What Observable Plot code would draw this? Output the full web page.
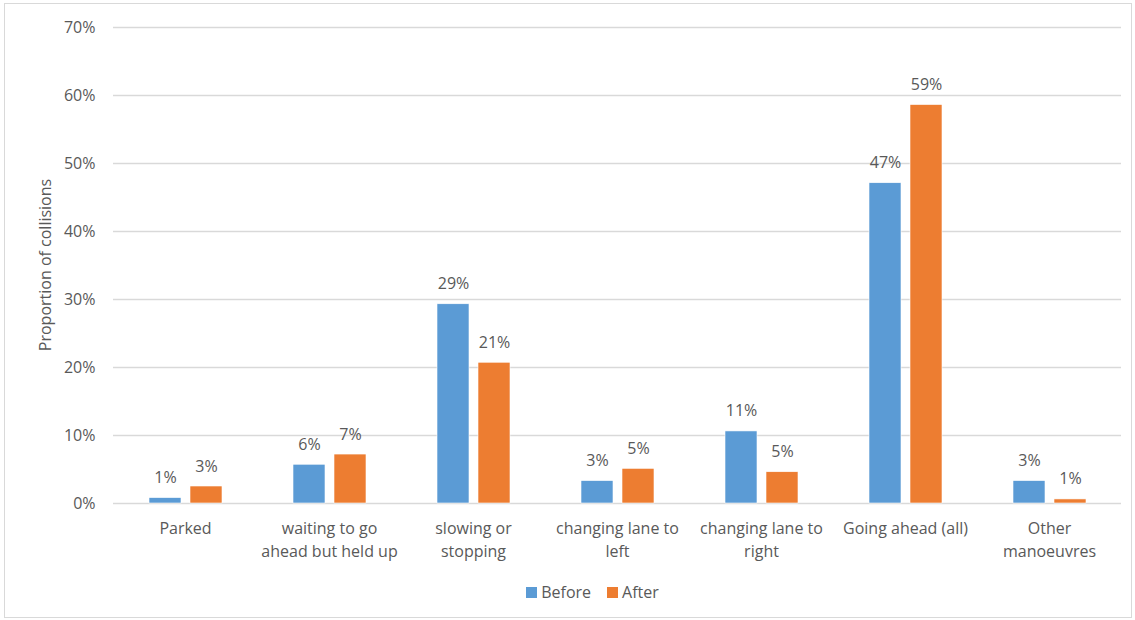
<!DOCTYPE html>
<html>
<head>
<meta charset="utf-8">
<script src="https://cdn.jsdelivr.net/npm/d3@7"></script>
<script src="https://cdn.jsdelivr.net/npm/@observablehq/plot@0.6"></script>
<style>
  body { margin: 0; background: #fff; font-family: "Open Sans", sans-serif; }
  #wrap { position: relative; width: 1135px; height: 620px; overflow: hidden; }
  #frame { position: absolute; left: 4px; top: 3px; width: 1126px; height: 613px; border: 1px solid #d9d9d9; pointer-events: none; }
  #chart { position: absolute; left: 0; top: 0; }
  #legend { position: absolute; top: 581px; left: 0; width: 1135px; display: flex; justify-content: center; gap: 16px; font-size: 16px; color: #595959; padding-left: 50px; box-sizing: border-box; }
  #legend span.item { display: inline-flex; align-items: center; gap: 4px; }
  #legend span.sw { display: inline-block; width: 11px; height: 11px; }
</style>
</head>
<body>
<div id="wrap">
  <div id="chart"></div>
  <div id="legend"></div>
  <div id="frame"></div>
</div>
<script>
const categories = ["Parked", "waiting to go ahead but held up", "slowing or stopping", "changing lane to left", "changing lane to right", "Going ahead (all)", "Other manoeuvres"];
const tickLabels = ["Parked", "waiting to go\nahead but held up", "slowing or\nstopping", "changing lane to\nleft", "changing lane to\nright", "Going ahead (all)", "Other\nmanoeuvres"];
const series = ["Before", "After"];
const beforeValues = [0.8, 5.7, 29.3, 3.3, 10.6, 47.1, 3.3];
const afterValues = [2.5, 7.2, 20.7, 5.1, 4.6, 58.6, 0.6];
const colors = ["#5b9bd5", "#ed7d31"];
const yTicks = [0, 10, 20, 30, 40, 50, 60, 70];

const rows = [];
categories.forEach((c, i) => {
  rows.push({category: c, series: "Before", value: beforeValues[i]});
  rows.push({category: c, series: "After", value: afterValues[i]});
});

const textColor = "#595959";

const chart = Plot.plot({
  width: 1135,
  height: 575,
  marginLeft: 113,
  marginRight: 14,
  marginTop: 27,
  marginBottom: 72,
  style: {fontFamily: "'Open Sans', sans-serif", fontSize: "16px", color: textColor, background: "white"},
  fx: {domain: categories, padding: 0, label: null},
  x: {domain: series, paddingInner: 0.22, paddingOuter: 0.866, axis: null},
  y: {domain: [0, 70], label: null},
  color: {domain: series, range: colors},
  marks: [
    Plot.ruleY(yTicks, {stroke: "#d9d9d9", strokeWidth: 1.5}),
    Plot.barY(rows, {fx: "category", x: "series", y: "value", fill: "series", stroke: "white", strokeWidth: 0.6}),
    Plot.text(rows, {fx: "category", x: "series", y: "value", text: d => Math.round(d.value) + "%", lineAnchor: "bottom", dy: -15, fill: textColor, fontSize: 16}),
    Plot.axisY(yTicks, {anchor: "left", tickSize: 0, tickPadding: 18, tickFormat: d => d + "%", fill: textColor, fontSize: 16, label: null}),
    Plot.axisFx({anchor: "bottom", tickSize: 0, tickPadding: 14, tickFormat: d => tickLabels[categories.indexOf(d)], fill: textColor, fontSize: 16, lineHeight: 1.45, label: null})
  ]
});
document.getElementById("chart").appendChild(chart);

// y-axis title
const svg = d3.select(chart);
svg.append("text")
  .attr("transform", "translate(51,265) rotate(-90)")
  .attr("text-anchor", "middle")
  .attr("fill", textColor)
  .attr("font-size", 16)
  .attr("font-family", "'Open Sans', sans-serif")
  .text("Proportion of collisions");

const legend = document.getElementById("legend");
series.forEach((s, i) => {
  const item = document.createElement("span");
  item.className = "item";
  const sw = document.createElement("span");
  sw.className = "sw";
  sw.style.background = colors[i];
  item.appendChild(sw);
  item.appendChild(document.createTextNode(s));
  legend.appendChild(item);
});
</script>
</body>
</html>
